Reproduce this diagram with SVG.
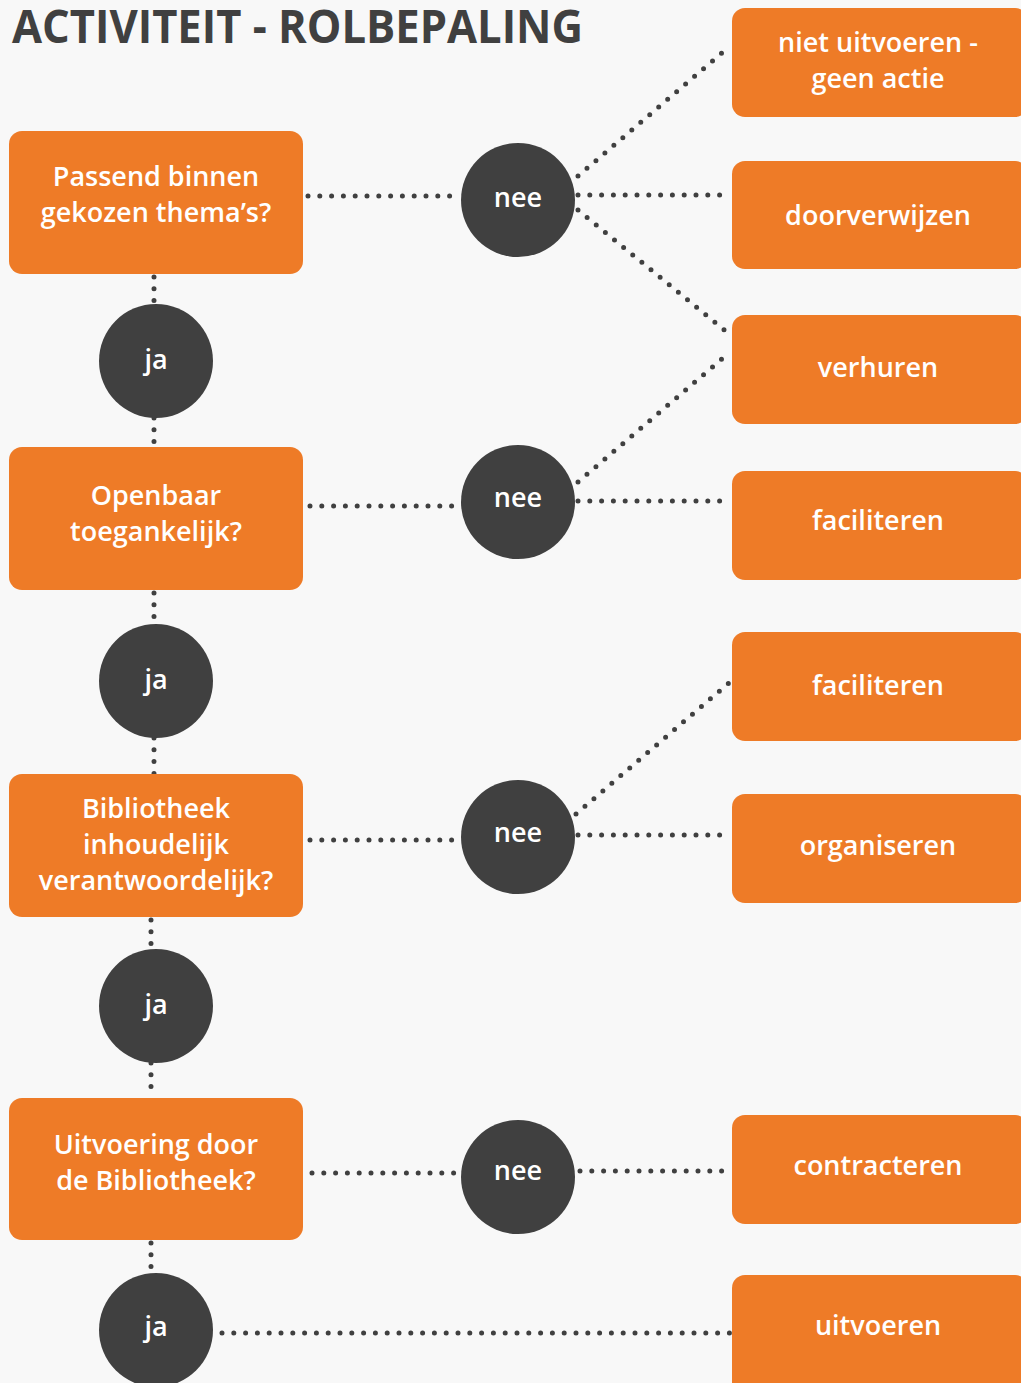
<svg xmlns="http://www.w3.org/2000/svg" width="1021" height="1383" viewBox="0 0 1021 1383">
<style>
.bg{fill:#f8f8f8}
.box{fill:#ee7b27}
.circ{fill:#404040}
.t{font-family:"Open Sans","Noto Sans","Liberation Sans",sans-serif;font-size:27px;fill:#ffffff;text-anchor:middle;font-weight:600}
.title{font-family:"Open Sans","Noto Sans","Liberation Sans",sans-serif;font-size:47px;font-weight:700;fill:#404040}
.dot{fill:none;stroke:#404040;stroke-width:5;stroke-linecap:round;stroke-dasharray:0 11.8}
</style>
<rect class="bg" x="0" y="0" width="1021" height="1383"/>
<text class="title" x="12" y="43" textLength="571" lengthAdjust="spacingAndGlyphs">ACTIVITEIT - ROLBEPALING</text>
<g id="connectors">
<path class="dot" d="M154 277 V305"/>
<path class="dot" d="M154 418 V447"/>
<path class="dot" d="M154 593 V625"/>
<path class="dot" d="M154 738 V774"/>
<path class="dot" d="M151 920 V950"/>
<path class="dot" d="M151 1063 V1098"/>
<path class="dot" d="M151 1243 V1273"/>
<path class="dot" d="M308 196 H461"/>
<path class="dot" d="M578 176 L730 46"/>
<path class="dot" d="M578 195 H730"/>
<path class="dot" d="M578 210 L728 333"/>
<path class="dot" d="M310 506 H461"/>
<path class="dot" d="M578 482 L730 352"/>
<path class="dot" d="M578 501 H730"/>
<path class="dot" d="M310 840 H461"/>
<path class="dot" d="M576 814 L730 682"/>
<path class="dot" d="M578 835 H730"/>
<path class="dot" d="M312 1173 H461"/>
<path class="dot" d="M580 1171 H730"/>
<path class="dot" d="M222 1333 H730"/>
</g>
<g id="q1"><rect class="box" x="9" y="131" width="294" height="143" rx="13"/><text class="t" x="156" y="186">Passend binnen</text><text class="t" x="156" y="222">gekozen thema’s?</text></g>
<g id="q2"><rect class="box" x="9" y="447" width="294" height="143" rx="13"/><text class="t" x="156" y="505">Openbaar</text><text class="t" x="156" y="541">toegankelijk?</text></g>
<g id="q3"><rect class="box" x="9" y="774" width="294" height="143" rx="13"/><text class="t" x="156" y="818">Bibliotheek</text><text class="t" x="156" y="854">inhoudelijk</text><text class="t" x="156" y="890">verantwoordelijk?</text></g>
<g id="q4"><rect class="box" x="9" y="1098" width="294" height="142" rx="13"/><text class="t" x="156" y="1154">Uitvoering door</text><text class="t" x="156" y="1190">de Bibliotheek?</text></g>
<g id="ja1"><circle class="circ" cx="156" cy="361" r="57"/><text class="t" x="156" y="369">ja</text></g>
<g id="ja2"><circle class="circ" cx="156" cy="681" r="57"/><text class="t" x="156" y="689">ja</text></g>
<g id="ja3"><circle class="circ" cx="156" cy="1006" r="57"/><text class="t" x="156" y="1014">ja</text></g>
<g id="ja4"><circle class="circ" cx="156" cy="1330" r="57"/><text class="t" x="156" y="1336">ja</text></g>
<g id="nee1"><circle class="circ" cx="518" cy="200" r="57"/><text class="t" x="518" y="207">nee</text></g>
<g id="nee2"><circle class="circ" cx="518" cy="502" r="57"/><text class="t" x="518" y="507">nee</text></g>
<g id="nee3"><circle class="circ" cx="518" cy="837" r="57"/><text class="t" x="518" y="842">nee</text></g>
<g id="nee4"><circle class="circ" cx="518" cy="1177" r="57"/><text class="t" x="518" y="1180">nee</text></g>
<g id="r1"><rect class="box" x="732" y="8" width="296" height="109" rx="13"/><text class="t" x="878" y="52">niet uitvoeren -</text><text class="t" x="878" y="88">geen actie</text></g>
<g id="r2"><rect class="box" x="732" y="161" width="296" height="108" rx="13"/><text class="t" x="878" y="225">doorverwijzen</text></g>
<g id="r3"><rect class="box" x="732" y="315" width="296" height="109" rx="13"/><text class="t" x="878" y="377">verhuren</text></g>
<g id="r4"><rect class="box" x="732" y="471" width="296" height="109" rx="13"/><text class="t" x="878" y="530">faciliteren</text></g>
<g id="r5"><rect class="box" x="732" y="632" width="296" height="109" rx="13"/><text class="t" x="878" y="695">faciliteren</text></g>
<g id="r6"><rect class="box" x="732" y="794" width="296" height="109" rx="13"/><text class="t" x="878" y="855">organiseren</text></g>
<g id="r7"><rect class="box" x="732" y="1115" width="296" height="109" rx="13"/><text class="t" x="878" y="1175">contracteren</text></g>
<g id="r8"><rect class="box" x="732" y="1275" width="296" height="120" rx="13"/><text class="t" x="878" y="1335">uitvoeren</text></g>
</svg>
